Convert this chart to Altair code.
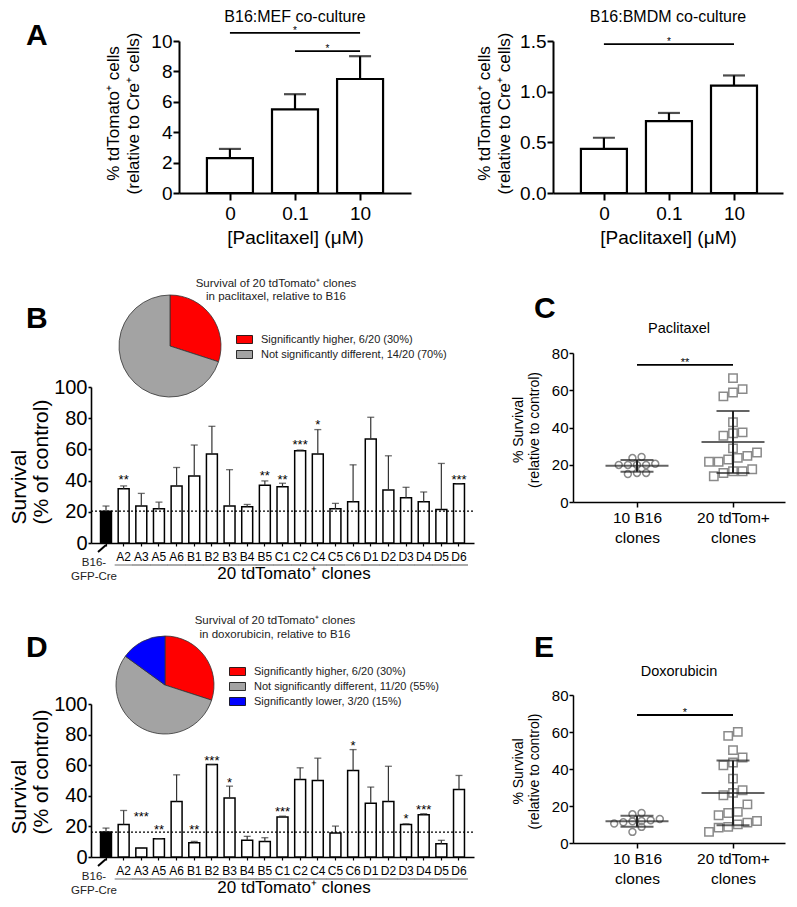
import altair as alt
import pandas as pd

FONT = "Liberation Sans, Arial, Helvetica, sans-serif"

# ---------------- Panel A data ----------------
conc_labels = ["0", "0.1", "10"]
mef_mean = [2.3, 5.5, 7.5]
mef_upper = [2.9, 6.5, 9.0]
bmdm_mean = [0.435, 0.71, 1.06]
bmdm_upper = [0.545, 0.79, 1.16]
mef_sig_from = [0, 1]
mef_sig_to = [2, 2]
mef_sig_y = [10.53, 9.34]
mef_sig_star = ["*", "*"]
bmdm_sig_from = [0]
bmdm_sig_to = [2]
bmdm_sig_y = [1.47]
bmdm_sig_star = ["*"]

# ---------------- Panels B / D data ----------------
clones = ["B16-GFP-Cre", "A2", "A3", "A5", "A6", "B1", "B2", "B3", "B4", "B5",
          "C1", "C2", "C4", "C5", "C6", "D1", "D2", "D3", "D4", "D5", "D6"]
pac_mean = [20.4, 34.8, 23.7, 21.9, 36.6, 43.0, 57.0, 23.7, 23.2, 37.0, 36.1,
            59.1, 57.0, 21.9, 26.5, 66.7, 34.0, 29.0, 26.5, 21.5, 38.0]
pac_upper = [23.7, 36.6, 31.8, 26.2, 48.4, 62.8, 74.8, 47.0, 24.7, 39.8, 38.3,
             59.6, 72.7, 25.4, 50.1, 80.6, 55.9, 35.7, 32.7, 51.0, 38.0]
pac_stars = ["", "**", "", "", "", "", "", "", "", "**", "**", "***", "*",
             "", "", "", "", "", "", "", "***"]
pac_star_y = [None, 42.0, None, None, None, None, None, None, None, 44.7, 42.0,
              65.0, 77.4, None, None, None, None, None, None, None, 42.6]

dox_mean = [16.3, 21.3, 5.9, 12.0, 36.3, 9.3, 60.4, 38.5, 10.9, 10.2, 26.1,
            50.6, 50.0, 15.7, 56.5, 35.2, 36.3, 21.3, 27.6, 8.7, 44.1]
dox_upper = [18.9, 30.4, 5.9, 12.0, 53.7, 10.2, 60.4, 46.3, 13.5, 12.6, 26.7,
             58.3, 64.6, 20.2, 70.2, 45.7, 59.3, 21.7, 28.3, 10.9, 53.3]
dox_stars = ["", "", "***", "**", "", "**", "***", "*", "", "", "***", "", "",
             "", "*", "", "", "*", "***", "", ""]
dox_star_y = [None, None, 28.0, 19.6, None, 19.6, 65.0, 50.6, None, None, 31.5,
              None, None, None, 74.3, None, None, 26.7, 32.6, None, None]

pac_pie_labels = ["Significantly higher, 6/20 (30%)",
                  "Not significantly different, 14/20 (70%)"]
pac_pie_counts = [6, 14]
dox_pie_labels = ["Significantly higher, 6/20 (30%)",
                  "Not significantly different, 11/20 (55%)",
                  "Significantly lower, 3/20 (15%)"]
dox_pie_counts = [6, 11, 3]
pie_colors = ["#ff0000", "#a3a3a3", "#0000ff"]

# ---------------- Panels C / E data ----------------
group_names = [["10 B16", "clones"], ["20 tdTom+", "clones"]]
c_b16 = [19.9, 19.9, 24.2, 23.6, 19.9, 19.9, 20.5, 15.6, 15.0, 15.6]
c_tdtom = [66.5, 58.8, 56.7, 60.6, 42.8, 36.9, 35.6, 37.4, 28.8, 24.8,
           22.8, 21.6, 21.6, 23.7, 26.6, 16.5, 16.5, 13.8, 15.6, 17.6]
c_sig_y = 73.6
c_sig_star = "**"
e_b16 = [16.2, 15.5, 11.7, 11.2, 12.3, 11.9, 6.0, 8.7, 10.5, 13.0]
e_tdtom = [60.1, 57.9, 50.2, 43.5, 46.2, 42.0, 34.8, 28.5, 25.8, 27.1,
           20.9, 16.8, 15.0, 16.2, 11.0, 8.7, 11.9, 8.3, 10.1, 6.0]
e_sig_y = 69.2
e_sig_star = "*"

# canvas (one layered chart, every panel has its own scales)
W, H = 696, 816


def txt(text, x, y, size, **kw):
    return alt.Chart(pd.DataFrame({"t": [text]})).mark_text(fontSize=size, **kw).encode(
        x=alt.value(x), y=alt.value(y), text="t:N")


# ---------------- Panel A ----------------
def panel_a(means, uppers, s_from, s_to, s_y, s_star, title, ydom, yvals, yfmt,
            ox, oy, w, title_x, letter):
    h = 152
    step = 68.0
    d0 = -48.0 / step
    df = pd.DataFrame({"i": list(range(len(conc_labels))), "m": means, "u": uppers})
    sdf = pd.DataFrame({"x1": s_from, "x2": s_to, "y": s_y, "s": s_star})
    xs = alt.Scale(domain=[d0, d0 + w / step], range=[ox, ox + w], nice=False, zero=False)
    ys = alt.Scale(domain=ydom, range=[oy + h, oy], nice=False)
    lab = "[" + ",".join("'" + s + "'" for s in conc_labels) + "][datum.value]"
    xax = alt.Axis(orient="bottom", offset=oy + h - H, values=list(range(len(conc_labels))),
                   labelExpr=lab, tickSize=7, tickWidth=2, domainWidth=2, labelFontSize=19,
                   labelPadding=4, titleFontSize=19, titlePadding=5)
    yax = alt.Axis(orient="left", offset=-ox, values=yvals, format=yfmt, tickSize=6,
                   tickWidth=2, domainWidth=2, labelFontSize=19, labelPadding=1,
                   titleFontSize=17, titleLineHeight=20, titleX=title_x, titleY=oy + 72,
                   titleBaseline="bottom")
    xt = "[Paclitaxel] (\u03bcM)"
    yt = ["% tdTomato\u207a cells", "(relative to Cre\u207a cells)"]

    def X(f):
        return alt.X(f, type="quantitative", scale=xs, axis=xax, title=xt)

    def Y(f):
        return alt.Y(f, type="quantitative", scale=ys, axis=yax, title=yt)

    base = alt.Chart(df)
    bars = base.mark_bar(size=46, fill="white", stroke="black", strokeWidth=2.2).encode(
        x=X("i"), y=Y("m"))
    err = base.mark_rule(color="black", strokeWidth=2.2).encode(
        x=X("i"), y=Y("m"), y2=alt.Y2("u"))
    cap = base.mark_tick(orient="horizontal", size=22, thickness=2.2, color="black").encode(
        x=X("i"), y=Y("u"))
    sb = alt.Chart(sdf)
    sigl = sb.mark_rule(color="black", strokeWidth=1.8).encode(
        x=X("x1"), x2=alt.X2("x2"), y=Y("y"))
    sigt = sb.transform_calculate(xm="(datum.x1 + datum.x2) / 2").mark_text(
        fontSize=10, baseline="bottom", dy=3).encode(x=X("xm"), y=Y("y"), text="s:N")
    layers = [bars, err, cap, sigl, sigt,
              txt(title, ox + w / 2, oy - 19, 16, baseline="alphabetic")]
    if letter:
        layers.append(txt(letter, ox - 153, oy + 4, 30, fontWeight="bold", align="left",
                          baseline="alphabetic"))
    return alt.layer(*layers)


# ---------------- Panels B / D ----------------
def panel_bar(means, uppers, stars, star_y, pie_labels, pie_counts, pie_title, ox, oy, h,
              pie_c, pie_r, leg_xy, tlines_y, tcx, letter, letter_y, ytitle_y):
    w = 383
    n = len(clones)
    df = pd.DataFrame({"clone": clones, "k": list(range(n)), "m": means, "u": uppers,
                       "star": stars, "sy": star_y})
    pi, po = 0.38, 0.54
    step = w / (n - pi + 2 * po)
    first_c = step * po + step * (1 - pi) / 2
    xs = alt.Scale(domain=clones, range=[ox, ox + w], paddingInner=pi, paddingOuter=po)
    ys = alt.Scale(domain=[0, 100], range=[oy + h, oy], nice=False)
    xax = alt.Axis(orient="bottom", offset=oy + h - H,
                   labelExpr="datum.value == '%s' ? '' : datum.value" % clones[0],
                   labelAngle=0, labelFontSize=12, tickSize=3, tickWidth=1.2,
                   domainWidth=1.6, labelPadding=5)
    yax = alt.Axis(orient="left", offset=-ox, values=[0, 20, 40, 60, 80, 100], format="d",
                   tickSize=3, tickWidth=1.6, domainWidth=1.6, labelFontSize=20,
                   labelPadding=1, titleFontSize=21, titleLineHeight=22, titleX=-62,
                   titleY=oy + ytitle_y, titleBaseline="bottom", titleAlign="left")
    yt = ["Survival", "(% of control)"]

    def X(f):
        return alt.X(f, type="nominal", scale=xs, axis=xax, title=None)

    def Y(f):
        return alt.Y(f, type="quantitative", scale=ys, axis=yax, title=yt)

    base = alt.Chart(df)
    bars = base.mark_bar(stroke="black", strokeWidth=1.5).encode(
        x=X("clone"), y=Y("m"),
        fill=alt.condition("datum.k == 0", alt.value("black"), alt.value("white")))
    err = base.mark_rule(color="#333333", strokeWidth=1.2).encode(
        x=X("clone"), y=Y("m"), y2=alt.Y2("u"))
    cap = base.mark_tick(orient="horizontal", size=7, thickness=1.3, color="#333333").encode(
        x=X("clone"), y=Y("u"))
    refdf = pd.DataFrame({"a": [clones[0]], "b": [clones[-1]], "m": [means[0]]})
    ref = alt.Chart(refdf).mark_rule(
        strokeDash=[2, 2], color="black", strokeWidth=1.2,
        xOffset=-first_c, x2Offset=first_c).encode(x=X("a"), x2=alt.X2("b"), y=Y("m"))
    st = base.transform_filter("datum.star != ''").mark_text(
        fontSize=13, baseline="middle", dy=3).encode(x=X("clone"), y=Y("sy"), text="star:N")
    under = base.transform_filter("datum.k > 0").mark_tick(
        orient="horizontal", size=step + 0.3, thickness=1.2, color="#333333").encode(
        x=X("clone"), y=alt.value(oy + h + 22))
    b16a = base.transform_filter("datum.k == 0").mark_text(
        text="B16-", fontSize=11.5, dx=-12, baseline="middle", color="#222222").encode(
        x=X("clone"), y=alt.value(oy + h + 20))
    b16b = base.transform_filter("datum.k == 0").mark_text(
        text="GFP-Cre", fontSize=11.5, dx=-12, baseline="middle", color="#222222").encode(
        x=X("clone"), y=alt.value(oy + h + 34))
    slash = base.transform_filter("datum.k == 0").mark_point(
        shape="M0.8,-0.7L-0.8,0.7", size=100, filled=False, stroke="black",
        strokeWidth=2, opacity=1, xOffset=-4).encode(x=X("clone"), y=alt.value(oy + h + 5.5))
    clones_t = txt("20 tdTomato\u207a clones", ox + 203, oy + h + 31, 17, baseline="middle")

    pdf = pd.DataFrame({"cat": pie_labels, "n": pie_counts,
                        "idx": list(range(len(pie_labels)))})
    legend = alt.Legend(orient="none", legendX=ox + leg_xy[0], legendY=oy + leg_xy[1],
                        title=None, symbolType="M-1,-0.5L1,-0.5L1,0.5L-1,0.5Z",
                        symbolSize=256, symbolStrokeColor="black", symbolStrokeWidth=0.8,
                        symbolOpacity=1, labelFontSize=11, labelFont=FONT,
                        labelColor="#222222", labelOffset=8, labelLimit=400,
                        rowPadding=0, padding=0)
    pie = alt.Chart(pdf).mark_arc(radius=pie_r, stroke="#333333", strokeWidth=0.8).encode(
        theta=alt.Theta("n:Q", stack=True),
        color=alt.Color("cat:N", scale=alt.Scale(domain=pie_labels,
                                                 range=pie_colors[:len(pie_labels)]),
                        legend=legend),
        order=alt.Order("idx:Q"),
        x=alt.value(ox + pie_c[0]), y=alt.value(oy + pie_c[1]))
    t1 = txt(pie_title[0], ox + tcx, oy + tlines_y[0], 11.5, baseline="alphabetic",
             color="#222222")
    t2 = txt(pie_title[1], ox + tcx, oy + tlines_y[1], 11.5, baseline="alphabetic",
             color="#222222")
    let = txt(letter, ox - 65, oy + letter_y, 30, fontWeight="bold", align="left",
              baseline="alphabetic")
    return alt.layer(bars, err, cap, ref, st, under, b16a, b16b, slash, clones_t,
                     pie, t1, t2, let)


# ---------------- Panels C / E ----------------
def swarm(values, group, gap, step):
    order = sorted(range(len(values)), key=lambda i: values[i])
    rows, cur, start = [], [], None
    for i in order:
        if cur and values[i] - start > gap:
            rows.append(cur)
            cur = []
        if not cur:
            start = values[i]
        cur.append(i)
    if cur:
        rows.append(cur)
    pos = [0.0] * len(values)
    for r in rows:
        for k, i in enumerate(r):
            pos[i] = group + (k - (len(r) - 1) / 2.0) * step
    return pd.DataFrame({"grp": group, "pos": pos, "v": values})


def panel_scatter(b16, tdt, gaps, sig_y, sig_star, title, ox, oy, h, letter, letter_y,
                  title_y):
    w = 212
    ppu = 96.0
    df = pd.concat([swarm(b16, 0, gaps[0], 0.095), swarm(tdt, 1, gaps[1], 0.1)],
                   ignore_index=True)
    xs = alt.Scale(domain=[-64 / ppu, (w - 64) / ppu], range=[ox, ox + w], nice=False,
                   zero=False)
    ys = alt.Scale(domain=[0, 80], range=[oy + h, oy], nice=False)
    lab = "datum.value == 0 ? ['%s', '%s'] : ['%s', '%s']" % (
        group_names[0][0], group_names[0][1], group_names[1][0], group_names[1][1])
    xax = alt.Axis(orient="bottom", offset=oy + h - H, values=[0, 1], labelExpr=lab,
                   tickSize=5, tickWidth=1.5, domainWidth=1.5, labelFontSize=15.5,
                   labelLineHeight=20, labelPadding=3)
    yax = alt.Axis(orient="left", offset=-ox, values=[0, 20, 40, 60, 80], format="d",
                   tickSize=4, tickWidth=1.5, domainWidth=1.5, labelFontSize=15,
                   labelPadding=1, titleFontSize=14, titleLineHeight=16, titleX=-48,
                   titleY=oy + h / 2 + 2, titleBaseline="bottom")
    yt = ["% Survival", "(relative to control)"]

    def X(f):
        return alt.X(f, type="quantitative", scale=xs, axis=xax, title=None)

    def Y(f):
        return alt.Y(f, type="quantitative", scale=ys, axis=yax, title=yt)

    base = alt.Chart(df)
    circ = base.transform_filter("datum.grp == 0").mark_point(
        shape="circle", size=48, strokeWidth=1.5, color="#8a8a8a", filled=False,
        opacity=1).encode(x=X("pos"), y=Y("v"))
    sq = base.transform_filter("datum.grp == 1").mark_point(
        shape="square", size=70, strokeWidth=1.5, color="#8a8a8a", filled=False,
        opacity=1).encode(x=X("pos"), y=Y("v"))
    stats = base.transform_aggregate(m="mean(v)", sd="stdev(v)", groupby=["grp"]).transform_calculate(
        lo="datum.m - datum.sd", hi="datum.m + datum.sd")
    mean_t = stats.mark_tick(orient="horizontal", size=63, thickness=2, color="#222222").encode(
        x=X("grp"), y=Y("m"))
    lo_t = stats.mark_tick(orient="horizontal", size=33, thickness=2, color="#222222").encode(
        x=X("grp"), y=Y("lo"))
    hi_t = stats.mark_tick(orient="horizontal", size=33, thickness=2, color="#222222").encode(
        x=X("grp"), y=Y("hi"))
    vr = stats.mark_rule(strokeWidth=2, color="#222222").encode(
        x=X("grp"), y=Y("lo"), y2=alt.Y2("hi"))
    sdf = alt.Chart(pd.DataFrame({"x1": [0], "x2": [1], "y": [sig_y], "s": [sig_star]}))
    sigl = sdf.mark_rule(color="black", strokeWidth=1.8).encode(
        x=X("x1"), x2=alt.X2("x2"), y=Y("y"))
    sigt = sdf.transform_calculate(xm="(datum.x1 + datum.x2) / 2").mark_text(
        fontSize=11, baseline="bottom", dy=3).encode(x=X("xm"), y=Y("y"), text="s:N")
    ttl = txt(title, ox + w / 2, oy + title_y, 14.5, baseline="alphabetic")
    let = txt(letter, ox - 39, oy + letter_y, 30, fontWeight="bold", align="left",
              baseline="alphabetic")
    return alt.layer(circ, sq, vr, mean_t, lo_t, hi_t, sigl, sigt, ttl, let)


a_left = panel_a(mef_mean, mef_upper, mef_sig_from, mef_sig_to, mef_sig_y, mef_sig_star,
                 "B16:MEF co-culture", [0, 10], [0, 2, 4, 6, 8, 10], "d",
                 88, 0, 232, -57, "A")
a_right = panel_a(bmdm_mean, bmdm_upper, bmdm_sig_from, bmdm_sig_to, bmdm_sig_y,
                  bmdm_sig_star, "B16:BMDM co-culture", [0, 1.5], [0, 0.5, 1.0, 1.5],
                  ".1f", 462, 0, 230, -60, None)
b_panel = panel_bar(pac_mean, pac_upper, pac_stars, pac_star_y, pac_pie_labels,
                    pac_pie_counts,
                    ["Survival of 20 tdTomato\u207a clones", "in paclitaxel, relative to B16"],
                    0, 346, 156, (79, -41), 51, (145, -56), (-100, -87), 185, "B", -59, 137)
d_panel = panel_bar(dox_mean, dox_upper, dox_stars, dox_star_y, dox_pie_labels,
                    dox_pie_counts,
                    ["Survival of 20 tdTomato\u207a clones", "in doxorubicin, relative to B16"],
                    0, 663, 153, (74, -19), 49, (138, -41), (-80, -66), 184, "D", -47, 130)
c_panel = panel_scatter(c_b16, c_tdtom, (3.0, 5.0), c_sig_y, c_sig_star, "Paclitaxel",
                        482, 312, 149, "C", -35, -20)
e_panel = panel_scatter(e_b16, e_tdtom, (3.0, 6.0), e_sig_y, e_sig_star, "Doxorubicin",
                        482, 654, 148, "E", -38, -19)

chart = alt.layer(a_left, a_right, b_panel, c_panel, d_panel, e_panel).resolve_scale(
    x="independent", y="independent", color="independent", theta="independent"
).properties(
    width=W, height=H,
    autosize=alt.AutoSizeParams(type="none"),
    padding={"left": 83, "top": 33, "right": 0, "bottom": 40},
).configure_view(stroke=None).configure_axis(
    grid=False, domainColor="black", tickColor="black", labelColor="black",
    titleColor="black", labelFont=FONT, titleFont=FONT, titleFontWeight="normal"
).configure_text(font=FONT, color="black").configure_legend(labelFont=FONT)

chart.save("out.html", embed_options={"renderer": "svg", "actions": False})
